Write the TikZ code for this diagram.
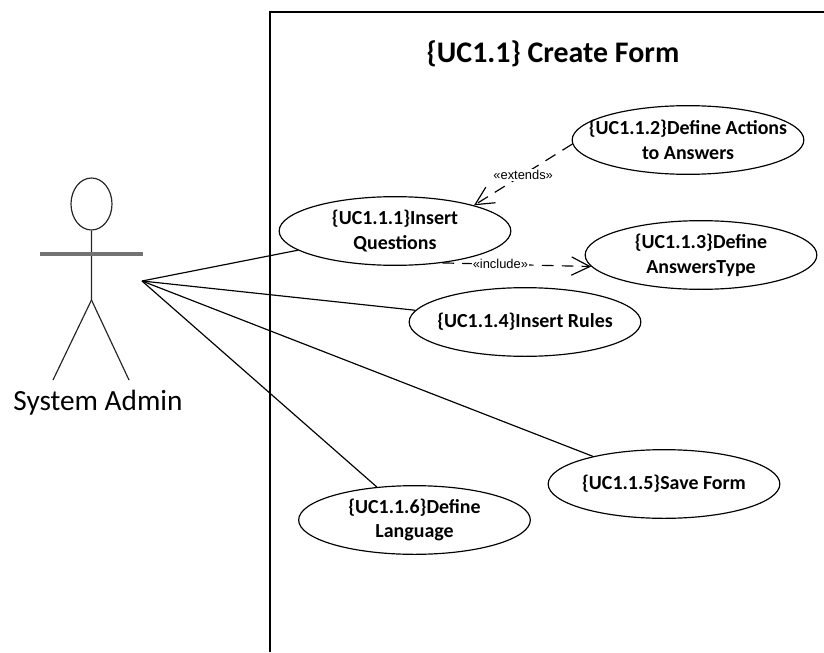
\documentclass[tikz,border=0pt]{standalone}
\usepackage{fontspec}
\setmainfont{Carlito}
\newfontfamily\stereofont{Liberation Sans}
\usetikzlibrary{arrows.meta, positioning, shapes.geometric}

\begin{document}
\begin{tikzpicture}[
    x=0.03cm, y=-0.03cm,
    usecase/.style={draw, line width=1pt, ellipse, minimum width=6.95cm, minimum height=2.06cm, inner sep=-1.2cm, font=\bfseries\fontsize{17pt}{21pt}\selectfont, align=center},
    actorline/.style={line width=1pt, black!85},
    link/.style={line width=1pt},
    depend/.style={line width=1pt, dash pattern=on 10pt off 7pt, -{Straight Barb[length=5.5mm, width=5.5mm]}},
    stereo/.style={fill=white, inner sep=1pt, font=\stereofont\fontsize{11pt}{12pt}\selectfont}
]
    \useasboundingbox (0,0) rectangle (824,652);

    % system boundary
    \draw[line width=1.3pt] (270,652) -- (270,12) -- (824,12);
    \node[font=\bfseries\fontsize{25.5pt}{28pt}\selectfont] (title) at (553,54) {\{UC1.1\} Create Form};

    % actor
    \node[draw, line width=1pt, ellipse, black!85, minimum width=1.23cm, minimum height=1.56cm, inner sep=0pt] (head) at (91.5,204) {};
    \coordinate (hip) at (91.5,300);
    \coordinate (armL) at (40,254);
    \coordinate (armR) at (143,254);
    \coordinate (footL) at (53,380);
    \coordinate (footR) at (129,380);
    \coordinate (admin) at (142,281);
    \draw[actorline] (head) -- (hip) -- (footL);
    \draw[actorline] (hip) -- (footR);
    \draw[line width=2.6pt, black!55] (armL) -- (armR);
    \node[font=\fontsize{25pt}{28pt}\selectfont] (adminlabel) at (98,403) {System Admin};

    % use cases
    \node[usecase] (insq) at (395,231) {\{UC1.1.1\}Insert\\Questions};
    \node[usecase] (actions) at (688,140) {\{UC1.1.2\}Define Actions\\to Answers};
    \node[usecase] (types) at (701,255) {\{UC1.1.3\}Define\\AnswersType};
    \node[usecase] (rules) at (525,322) {\{UC1.1.4\}Insert Rules};
    \node[usecase] (save) at (664,484) {\{UC1.1.5\}Save Form};
    \node[usecase] (lang) at (414.5,520) {\{UC1.1.6\}Define\\Language};

    \draw[link] (admin) -- (insq);
    \draw[link] (admin) -- (rules);
    \draw[link] (admin) -- (save);
    \draw[link] (admin) -- (lang);

    \draw[depend] (actions.182) -- node[stereo] (ext) {«extends»} (insq.18);
    \draw[depend] (insq.326) -- node[stereo, pos=0.39] (inc) {«include»} (types.186);
\end{tikzpicture}
\end{document}
